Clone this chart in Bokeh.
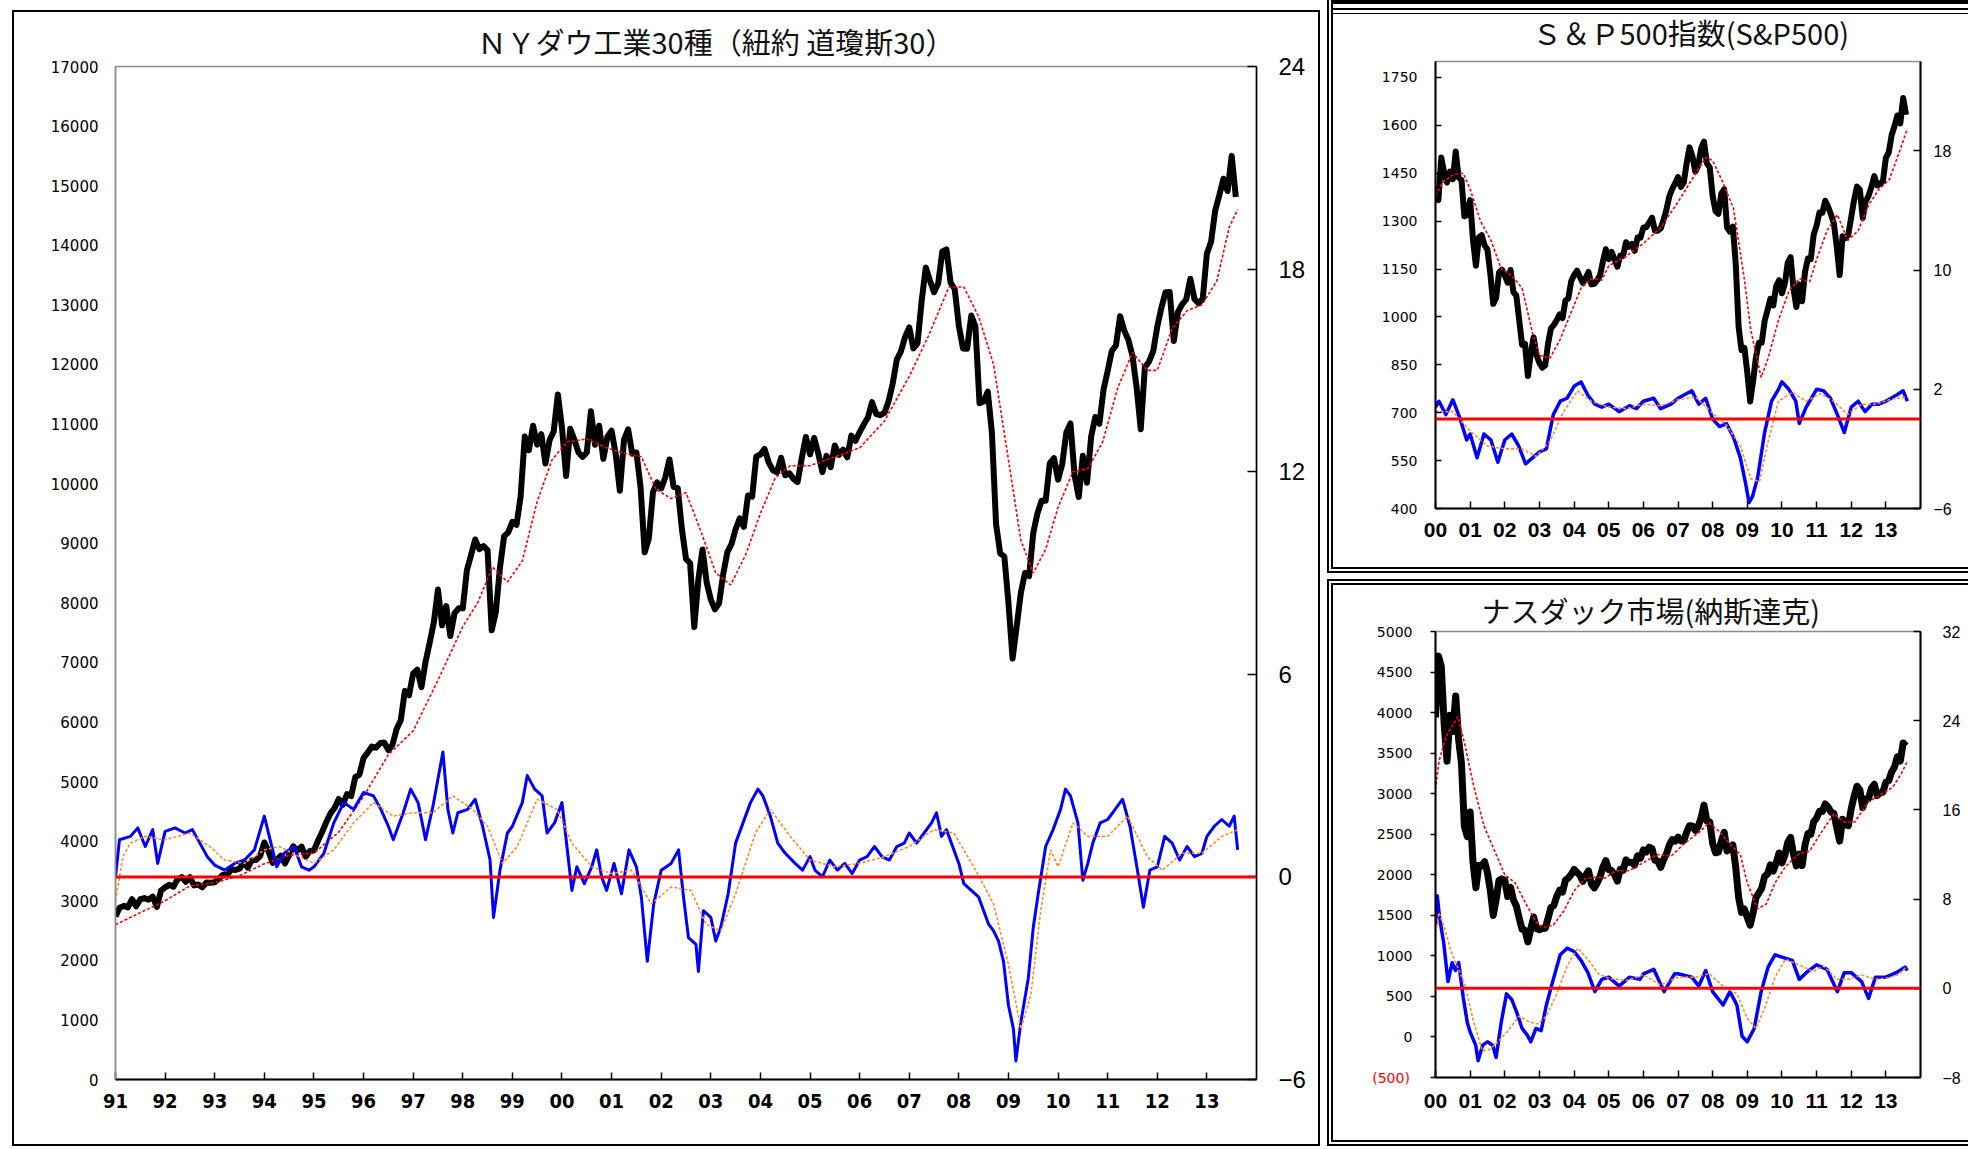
from bokeh.plotting import figure
from bokeh.models import Range1d, LinearAxis, FixedTicker, Span
from bokeh.layouts import row, column
from bokeh.embed import file_html
from bokeh.resources import INLINE

# ---------------- data ----------------
# NY Dow monthly close, 1991-01 .. 2013-08
dow_close = [
    2736, 2882, 2914, 2888, 3028, 2907, 3025, 3044, 3017, 3069, 2895, 3169,
    3224, 3267, 3236, 3359, 3397, 3319, 3394, 3257, 3272, 3226, 3305, 3301,
    3310, 3371, 3435, 3428, 3527, 3516, 3540, 3651, 3555, 3681, 3684, 3754,
    3978, 3832, 3636, 3682, 3758, 3625, 3765, 3913, 3843, 3908, 3739, 3834,
    3844, 4011, 4158, 4321, 4465, 4556, 4709, 4611, 4789, 4756, 5075, 5117,
    5395, 5486, 5588, 5569, 5643, 5655, 5529, 5616, 5882, 6029, 6522, 6448,
    6813, 6878, 6584, 7009, 7331, 7673, 8223, 7622, 7945, 7442, 7823, 7908,
    7907, 8546, 8800, 9063, 8900, 8952, 8883, 7539, 7843, 8592, 9117, 9181,
    9359, 9307, 9786, 10789, 10560, 10971, 10655, 10829, 10337, 10729, 10878, 11497,
    10941, 10128, 10922, 10734, 10522, 10448, 10522, 11215, 10651, 10971, 10415, 10788,
    10887, 10495, 9879, 10735, 10912, 10502, 10523, 9950, 8848, 9075, 9852, 10022,
    9920, 10106, 10404, 9946, 9925, 9243, 8737, 8664, 7592, 8397, 8896, 8342,
    8054, 7891, 7992, 8480, 8850, 8985, 9234, 9416, 9275, 9801, 9782, 10454,
    10488, 10584, 10358, 10226, 10188, 10435, 10140, 10174, 10080, 10027, 10428, 10783,
    10490, 10766, 10504, 10193, 10467, 10275, 10641, 10482, 10569, 10440, 10806, 10718,
    10865, 10993, 11109, 11367, 11168, 11150, 11186, 11381, 11679, 12081, 12222, 12463,
    12622, 12269, 12354, 13063, 13628, 13409, 13212, 13358, 13896, 13930, 13372, 13265,
    12650, 12266, 12263, 12820, 12638, 11350, 11378, 11544, 10851, 9325, 8829, 8776,
    8001, 7063, 7609, 8168, 8500, 8447, 9172, 9496, 9712, 9713, 10345, 10428,
    10067, 10325, 10857, 11009, 10137, 9774, 10466, 10015, 10788, 11118, 11006, 11578,
    11892, 12226, 12320, 12811, 12570, 12414, 12143, 11614, 10913, 11955, 12046, 12218,
    12633, 12952, 13212, 13214, 12393, 12880, 13009, 13091, 13437, 13096, 13026, 13104,
    13861, 14054, 14579, 14840, 15116, 14910, 15500, 14810,
]
dow_ma_t = [1991.0, 1991.5, 1992.0, 1992.5, 1993.0, 1993.5, 1994.0, 1994.5, 1995.0, 1995.5,
            1996.0, 1996.5, 1997.0, 1997.5, 1998.0, 1998.3, 1998.6, 1998.9, 1999.2, 1999.5,
            1999.8, 2000.1, 2000.5, 2000.9, 2001.3, 2001.6, 2001.9, 2002.2, 2002.5, 2002.8,
            2003.1, 2003.4, 2003.7, 2004.0, 2004.3, 2004.6, 2005.0, 2005.5, 2006.0, 2006.5,
            2007.0, 2007.4, 2007.8, 2008.1, 2008.4, 2008.7, 2009.0, 2009.25, 2009.5, 2009.75,
            2010.0, 2010.3, 2010.6, 2010.9, 2011.2, 2011.5, 2011.8, 2012.0, 2012.3, 2012.6,
            2012.9, 2013.2, 2013.45, 2013.62]
dow_ma = [2600, 2800, 3000, 3250, 3300, 3420, 3620, 3760, 3800, 4150,
          4750, 5450, 5850, 6700, 7600, 8000, 8600, 8350, 8700, 9700,
          10400, 10700, 10750, 10600, 10500, 10450, 9900, 9750, 9850, 9200,
          8500, 8300, 8800, 9500, 10100, 10300, 10300, 10450, 10600, 11050,
          11800, 12500, 13300, 13300, 12800, 12000, 10400, 9050, 8500, 8900,
          9600, 10200, 10250, 10700, 11600, 12200, 11900, 11900, 12600, 12900,
          13000, 13400, 14300, 14600]
dow_osc_t = [1991.00, 1991.08, 1991.3, 1991.45, 1991.6, 1991.75, 1991.85, 1992.0, 1992.2, 1992.4,
             1992.55, 1992.7, 1992.85, 1993.0, 1993.2, 1993.4, 1993.6, 1993.8, 1994.0, 1994.1,
             1994.25, 1994.4, 1994.6, 1994.75, 1994.9, 1995.0, 1995.2, 1995.4, 1995.6, 1995.8,
             1996.0, 1996.2, 1996.35, 1996.5, 1996.6, 1996.8, 1996.95, 1997.1, 1997.25, 1997.4,
             1997.6, 1997.7, 1997.8, 1997.9, 1998.1, 1998.25, 1998.4, 1998.55, 1998.62, 1998.75,
             1998.9, 1999.0, 1999.2, 1999.3, 1999.45, 1999.6, 1999.7, 1999.85, 2000.0, 2000.1,
             2000.2, 2000.3, 2000.45, 2000.6, 2000.7, 2000.8, 2000.9, 2001.05, 2001.2, 2001.35,
             2001.5, 2001.6, 2001.72, 2001.85, 2002.0, 2002.2, 2002.35, 2002.45, 2002.55, 2002.7,
             2002.75, 2002.85, 2003.0, 2003.1, 2003.2, 2003.35, 2003.5, 2003.65, 2003.8, 2003.95,
             2004.05, 2004.2, 2004.35, 2004.5, 2004.7, 2004.85, 2005.0, 2005.1, 2005.25, 2005.4,
             2005.55, 2005.7, 2005.85, 2006.0, 2006.15, 2006.3, 2006.45, 2006.6, 2006.75, 2006.9,
             2007.0, 2007.15, 2007.3, 2007.45, 2007.55, 2007.65, 2007.75, 2007.85, 2008.0, 2008.1,
             2008.25, 2008.4, 2008.5, 2008.6, 2008.7, 2008.8, 2008.9, 2009.0, 2009.1, 2009.15,
             2009.25, 2009.4, 2009.5, 2009.6, 2009.75, 2009.9, 2010.05, 2010.15, 2010.25, 2010.4,
             2010.5, 2010.6, 2010.7, 2010.85, 2011.0, 2011.15, 2011.3, 2011.45, 2011.6, 2011.72,
             2011.85, 2012.0, 2012.15, 2012.3, 2012.45, 2012.6, 2012.75, 2012.9, 2013.0, 2013.15,
             2013.3, 2013.45, 2013.55, 2013.62]
dow_osc = [0.0, 1.1, 1.2, 1.45, 0.9, 1.4, 0.4, 1.35, 1.45, 1.3,
           1.4, 1.0, 0.6, 0.35, 0.2, 0.4, 0.5, 0.8, 1.8, 1.2,
           0.3, 0.7, 0.9, 0.3, 0.2, 0.3, 0.7, 1.6, 2.2, 2.0,
           2.5, 2.4, 2.0, 1.5, 1.1, 1.9, 2.6, 2.2, 1.1, 2.1,
           3.7, 2.0, 1.3, 1.9, 2.0, 2.3, 1.5, 0.5, -1.2, 0.2,
           1.3, 1.5, 2.2, 3.0, 2.6, 2.4, 1.3, 1.6, 2.2, 0.9,
           -0.4, 0.3, -0.2, 0.3, 0.8, 0.0, -0.4, 0.4, -0.5, 0.8,
           0.3, -0.6, -2.5, -0.8, 0.2, 0.4, 0.8, -0.6, -1.8, -2.0,
           -2.8, -1.0, -1.2, -1.9, -1.5, -0.5, 1.0, 1.6, 2.2, 2.6,
           2.4, 1.8, 1.0, 0.7, 0.4, 0.2, 0.6, 0.2, 0.0, 0.5,
           0.2, 0.4, 0.1, 0.5, 0.6, 0.9, 0.6, 0.5, 0.9, 1.0,
           1.3, 1.0, 1.3, 1.6, 1.9, 1.2, 1.4, 1.0, 0.4, -0.2,
           -0.4, -0.6, -1.0, -1.4, -1.6, -1.9, -2.5, -3.8, -4.5, -5.45,
           -4.3, -3.0, -1.5, -0.5, 0.9, 1.4, 2.0, 2.6, 2.4, 1.6,
           -0.1, 0.4, 1.0, 1.6, 1.7, 2.0, 2.3, 1.5, 0.2, -0.9,
           0.2, 0.3, 1.2, 1.0, 0.5, 0.9, 0.6, 0.7, 1.2, 1.5,
           1.7, 1.5, 1.8, 0.8]
dow_osc_ma_t = [1991.0, 1991.15, 1991.3, 1991.6, 1992.0, 1992.5, 1992.9, 1993.2, 1993.6, 1994.0,
                1994.3, 1994.7, 1995.0, 1995.4, 1995.8, 1996.2, 1996.6, 1997.0, 1997.4, 1997.8,
                1998.2, 1998.5, 1998.8, 1999.1, 1999.5, 1999.9, 2000.2, 2000.6, 2001.0, 2001.4,
                2001.8, 2002.2, 2002.6, 2002.9, 2003.2, 2003.5, 2003.9, 2004.2, 2004.6, 2005.0,
                2005.5, 2006.0, 2006.5, 2007.0, 2007.5, 2007.9, 2008.3, 2008.7, 2009.0, 2009.25,
                2009.45, 2009.65, 2009.85, 2010.0, 2010.3, 2010.6, 2011.0, 2011.4, 2011.8, 2012.1,
                2012.5, 2012.9, 2013.3, 2013.62]
dow_osc_ma = [-0.7, 0.6, 1.0, 1.2, 1.1, 1.3, 0.9, 0.5, 0.4, 0.8,
              0.9, 0.6, 0.4, 0.8, 1.6, 2.2, 1.8, 1.9, 1.9, 2.4,
              2.0, 1.5, 0.4, 0.9, 2.3, 2.0, 1.0, 0.3, 0.1, 0.2,
              -0.8, -0.3, -0.4, -1.4, -1.6, -0.5, 1.3, 2.0, 1.2, 0.5,
              0.3, 0.4, 0.6, 0.9, 1.4, 1.3, 0.3, -0.8, -2.6, -4.5,
              -3.5, -1.0, 0.8, 0.3, 1.6, 1.2, 1.2, 1.8, 0.6, 0.2,
              0.7, 0.7, 1.2, 1.4]

# S&P 500 monthly close, 2000-01 .. 2013-08
sp_close = [
    1394, 1366, 1499, 1452, 1421, 1455, 1431, 1518, 1437, 1429, 1315, 1320,
    1366, 1240, 1160, 1249, 1256, 1224, 1211, 1134, 1041, 1060, 1139, 1148,
    1130, 1107, 1147, 1077, 1067, 990, 912, 916, 815, 886, 936, 880,
    856, 841, 848, 917, 964, 975, 990, 1008, 996, 1051, 1058, 1112,
    1131, 1145, 1126, 1107, 1121, 1141, 1102, 1104, 1115, 1130, 1174, 1212,
    1181, 1204, 1181, 1157, 1192, 1191, 1234, 1220, 1229, 1207, 1249, 1248,
    1280, 1281, 1295, 1311, 1270, 1270, 1277, 1304, 1336, 1378, 1401, 1418,
    1438, 1407, 1421, 1482, 1531, 1503, 1455, 1474, 1527, 1549, 1481, 1468,
    1379, 1331, 1323, 1386, 1400, 1280, 1267, 1283, 1166, 969, 896, 903,
    826, 735, 798, 873, 919, 919, 987, 1021, 1057, 1036, 1096, 1115,
    1074, 1104, 1169, 1187, 1089, 1031, 1102, 1049, 1141, 1183, 1181, 1258,
    1286, 1327, 1326, 1364, 1345, 1321, 1292, 1219, 1131, 1253, 1247, 1258,
    1312, 1366, 1408, 1398, 1310, 1362, 1379, 1407, 1441, 1412, 1416, 1426,
    1498, 1515, 1569, 1598, 1631, 1606, 1686, 1633,
]
sp_ma_t = [2000.0, 2000.2, 2000.5, 2000.8, 2001.0, 2001.3, 2001.6, 2001.9, 2002.2, 2002.5,
           2002.8, 2003.0, 2003.3, 2003.6, 2003.9, 2004.2, 2004.5, 2004.8, 2005.0, 2005.5,
           2006.0, 2006.5, 2007.0, 2007.4, 2007.8, 2008.0, 2008.3, 2008.6, 2008.9, 2009.1,
           2009.4, 2009.6, 2009.9, 2010.2, 2010.5, 2010.8, 2011.0, 2011.3, 2011.6, 2011.9,
           2012.2, 2012.5, 2012.8, 2013.1, 2013.4, 2013.62]
sp_ma = [1380, 1420, 1445, 1450, 1400, 1300, 1240, 1150, 1130, 1090,
         950, 880, 870, 930, 1010, 1090, 1120, 1115, 1160, 1190,
         1230, 1280, 1360, 1430, 1500, 1490, 1420, 1340, 1130, 960,
         810, 870, 990, 1080, 1120, 1110, 1180, 1270, 1320, 1240,
         1270, 1350, 1400, 1430, 1520, 1590]
sp_osc_t = [2000.0, 2000.1, 2000.3, 2000.5, 2000.7, 2000.9, 2001.0, 2001.2, 2001.4, 2001.6,
            2001.8, 2002.0, 2002.2, 2002.4, 2002.6, 2002.8, 2003.0, 2003.2, 2003.4, 2003.6,
            2003.8, 2004.0, 2004.2, 2004.4, 2004.6, 2004.8, 2005.0, 2005.3, 2005.6, 2005.8,
            2006.0, 2006.3, 2006.5, 2006.8, 2007.0, 2007.4, 2007.6, 2007.8, 2008.0, 2008.2,
            2008.4, 2008.6, 2008.8, 2008.95, 2009.05, 2009.15, 2009.3, 2009.5, 2009.7, 2009.9,
            2010.0, 2010.2, 2010.4, 2010.5, 2010.7, 2011.0, 2011.2, 2011.4, 2011.6, 2011.8,
            2012.0, 2012.2, 2012.4, 2012.6, 2012.8, 2013.0, 2013.3, 2013.5, 2013.62]
sp_osc = [0.8, 1.2, 0.3, 1.3, 0.1, -1.4, -1.0, -2.6, -1.0, -1.4,
          -2.9, -1.4, -1.0, -1.8, -3.0, -2.6, -2.2, -2.0, 0.3, 1.2,
          1.4, 2.2, 2.5, 1.6, 1.0, 0.8, 1.0, 0.5, 0.9, 0.7,
          1.2, 1.4, 0.7, 1.0, 1.4, 1.9, 1.0, 1.4, 0.0, -0.5,
          -0.3, -1.2, -2.6, -4.3, -5.6, -5.2, -3.9, -0.9, 1.2, 2.0,
          2.5, 2.0, 1.2, -0.3, 0.8, 2.0, 1.9, 1.4, 0.3, -0.9,
          0.8, 1.2, 0.5, 1.0, 1.0, 1.2, 1.6, 1.9, 1.2]
sp_osc_ma_t = [2000.0, 2000.5, 2001.0, 2001.5, 2002.0, 2002.5, 2002.9, 2003.3, 2003.7, 2004.1,
               2004.5, 2005.0, 2005.5, 2006.0, 2006.5, 2007.0, 2007.5, 2008.0, 2008.4, 2008.8,
               2009.1, 2009.35, 2009.6, 2009.9, 2010.3, 2010.7, 2011.1, 2011.5, 2011.9, 2012.3,
               2012.7, 2013.1, 2013.62]
sp_osc_ma = [0.5, 0.5, -0.8, -1.8, -2.0, -2.0, -2.5, -1.5, 0.5, 1.9,
             1.2, 0.8, 0.7, 1.0, 0.9, 1.3, 1.5, 0.4, -0.4, -1.8,
             -4.0, -4.2, -1.5, 1.2, 1.8, 1.2, 1.7, 1.2, 0.3, 1.0,
             1.0, 1.3, 1.5]

# NASDAQ composite monthly close, 2000-01 .. 2013-08
nq_close = [
    3940, 4697, 4573, 3861, 3401, 3966, 3767, 4206, 3673, 3370, 2598, 2471,
    2773, 2152, 1840, 2116, 2110, 2161, 2027, 1805, 1499, 1690, 1931, 1950,
    1934, 1731, 1845, 1688, 1616, 1463, 1328, 1315, 1172, 1330, 1479, 1336,
    1321, 1338, 1341, 1464, 1596, 1623, 1735, 1810, 1787, 1932, 1960, 2003,
    2066, 2030, 1994, 1920, 1987, 2048, 1887, 1838, 1897, 1975, 2097, 2175,
    2062, 2052, 1999, 1922, 2068, 2057, 2185, 2152, 2152, 2120, 2233, 2205,
    2306, 2281, 2340, 2323, 2179, 2172, 2091, 2184, 2258, 2367, 2432, 2415,
    2464, 2416, 2422, 2525, 2605, 2603, 2546, 2596, 2701, 2859, 2661, 2652,
    2390, 2271, 2279, 2413, 2523, 2293, 2326, 2368, 2092, 1721, 1536, 1577,
    1476, 1378, 1529, 1717, 1774, 1835, 1979, 2009, 2122, 2045, 2145, 2269,
    2147, 2238, 2398, 2461, 2257, 2109, 2255, 2114, 2369, 2507, 2498, 2653,
    2700, 2782, 2781, 2874, 2835, 2774, 2756, 2580, 2415, 2684, 2620, 2605,
    2814, 2967, 3092, 3046, 2827, 2935, 2940, 3067, 3116, 2977, 3010, 3020,
    3142, 3160, 3268, 3329, 3456, 3403, 3626, 3590,
]
nq_ma_t = [2000.0, 2000.1, 2000.3, 2000.5, 2000.65, 2000.85, 2001.1, 2001.4, 2001.7, 2002.0,
           2002.3, 2002.6, 2002.9, 2003.1, 2003.4, 2003.7, 2004.0, 2004.3, 2004.6, 2004.9,
           2005.2, 2005.6, 2006.0, 2006.4, 2006.8, 2007.2, 2007.6, 2007.9, 2008.2, 2008.5,
           2008.8, 2009.0, 2009.3, 2009.55, 2009.8, 2010.1, 2010.5, 2010.8, 2011.1, 2011.5,
           2011.8, 2012.1, 2012.5, 2012.9, 2013.2, 2013.45, 2013.62]
nq_ma = [3050, 3400, 3700, 3850, 3950, 3600, 3100, 2600, 2300, 2000,
         1900, 1650, 1420, 1350, 1380, 1550, 1800, 1950, 1970, 1960,
         2050, 2050, 2150, 2250, 2230, 2390, 2520, 2640, 2530, 2380,
         2250, 1900, 1580, 1640, 1900, 2100, 2260, 2290, 2500, 2750,
         2650, 2650, 2900, 3000, 3080, 3250, 3400]
nq_osc_t = [2000.0, 2000.05, 2000.12, 2000.24, 2000.36, 2000.48, 2000.58, 2000.67, 2000.8, 2000.92,
            2001.01, 2001.16, 2001.23, 2001.36, 2001.5, 2001.65, 2001.75, 2001.9, 2002.05, 2002.2,
            2002.35, 2002.5, 2002.65, 2002.75, 2002.9, 2003.05, 2003.2, 2003.4, 2003.6, 2003.8,
            2004.0, 2004.2, 2004.4, 2004.6, 2004.8, 2005.0, 2005.3, 2005.6, 2005.9, 2006.0,
            2006.3, 2006.6, 2006.9, 2007.0, 2007.4, 2007.6, 2007.8, 2008.0, 2008.3, 2008.5,
            2008.7, 2008.85, 2009.0, 2009.2, 2009.4, 2009.6, 2009.8, 2010.0, 2010.3, 2010.5,
            2010.7, 2011.0, 2011.3, 2011.6, 2011.8, 2012.0, 2012.3, 2012.5, 2012.7, 2013.0,
            2013.3, 2013.55, 2013.62]
nq_osc = [5.6, 8.3, 6.3, 4.0, 0.6, 2.3, 1.6, 2.3, -0.8, -3.1,
          -4.0, -5.1, -6.5, -5.1, -4.8, -5.1, -6.2, -3.0, -0.5, -1.0,
          -2.2, -3.6, -4.2, -4.8, -3.6, -3.8, -1.5, 0.8, 3.0, 3.6,
          3.3, 2.5, 1.4, -0.3, 0.8, 1.0, 0.2, 1.0, 0.8, 1.3,
          1.7, -0.3, 1.3, 1.3, 1.0, 0.2, 1.6, -0.3, -1.5, -0.3,
          -1.5, -4.3, -4.8, -3.6, -0.3, 1.9, 3.0, 2.8, 2.5, 0.8,
          1.4, 2.1, 1.7, -0.3, 1.4, 1.4, 0.6, -0.9, 1.0, 1.0,
          1.4, 1.9, 1.6]
nq_osc_ma_t = [2000.0, 2000.1, 2000.25, 2000.45, 2000.65, 2000.85, 2001.1, 2001.35, 2001.55, 2001.8,
               2002.1, 2002.4, 2002.7, 2002.95, 2003.2, 2003.5, 2003.8, 2004.1, 2004.4, 2004.7,
               2005.0, 2005.5, 2006.0, 2006.5, 2007.0, 2007.5, 2007.9, 2008.3, 2008.7, 2009.0,
               2009.25, 2009.5, 2009.8, 2010.1, 2010.5, 2010.9, 2011.2, 2011.6, 2011.9, 2012.3,
               2012.7, 2013.0, 2013.35, 2013.62]
nq_osc_ma = [5.1, 6.8, 5.5, 3.3, 1.8, 0.3, -3.0, -5.6, -5.5, -4.8,
             -3.8, -2.5, -3.0, -3.2, -2.5, -0.5, 2.0, 3.6, 2.6, 1.3,
             0.9, 0.7, 1.2, 0.3, 1.0, 1.0, 1.3, 0.2, -0.5, -2.7,
             -3.6, -1.8, 1.0, 2.6, 2.1, 1.5, 2.0, 0.8, 0.8, 1.2,
             0.8, 0.9, 1.2, 2.0]

dow_years = list(range(1991, 2014))
dow_year_labels = ["%02d" % (y % 100) for y in dow_years]
sub_years = list(range(2000, 2014))
sub_year_labels = ["%02d" % (y % 100) for y in sub_years]
nq_left_ticks = list(range(-500, 5001, 500))
nq_neg_label = "(500)"

TITLE_MAIN = "ＮＹダウ工業30種（紐約 道瓊斯30）"
TITLE_SP = "Ｓ＆Ｐ500指数(S&P500)"
TITLE_NQ = "ナスダック市場(納斯達克)"

# ---------------- styling helpers ----------------
JP = "Noto Sans CJK JP"
NARROW = "'Liberation Sans Narrow', 'DejaVu Sans Condensed', sans-serif"
BLACK = "#000000"
RED = "#FF0000"
BLUE = "#0000FF"
ORANGE = "#FF8A2A"


def months(start, n):
    return [start + i / 12.0 for i in range(n)]


def make_panel(width, height, margin, xr, yr, rr, borders, title, title_size, title_offset,
               title_standoff, styles):
    p = figure(width=width, height=height, x_range=Range1d(*xr), y_range=Range1d(*yr),
               output_backend="svg", toolbar_location=None,
               min_border_left=borders[0], min_border_right=borders[1],
               min_border_top=borders[2], min_border_bottom=borders[3])
    p.margin = margin
    p.extra_y_ranges = {"r": Range1d(*rr)}
    p.xgrid.visible = False
    p.ygrid.visible = False
    p.outline_line_color = "#8c8c8c"
    p.outline_line_width = 1.5
    p.background_fill_color = "white"
    p.border_fill_color = None
    p.title.text = title
    p.title.align = "left"
    p.title.text_font = JP
    p.title.text_font_style = "normal"
    p.title.text_font_size = title_size
    p.title.text_color = "#111111"
    p.title.offset = title_offset
    p.title.standoff = title_standoff
    p.styles = styles
    return p


def style_axis(ax, font, size, style, standoff, tin, tout, line_color, line_width, color=BLACK):
    ax.major_label_text_font = font
    ax.major_label_text_font_size = size
    ax.major_label_text_font_style = style
    ax.major_label_text_color = color
    ax.major_label_standoff = standoff
    ax.major_tick_in = tin
    ax.major_tick_out = tout
    ax.minor_tick_line_color = None
    ax.major_tick_line_color = BLACK
    ax.major_tick_line_width = 1.5
    ax.axis_line_color = line_color
    ax.axis_line_width = line_width


def draw_series(p, t_close, close, ma_t, ma, osc_t, osc, oma_t, oma, black_w, blue_w):
    p.add_layout(Span(location=0, dimension="width", y_range_name="r",
                      line_color=RED, line_width=3))
    p.line(t_close, close, line_color=BLACK, line_width=black_w, line_join="round")
    p.line(ma_t, ma, line_color=RED, line_width=1.6, line_dash="3 2")
    p.line(osc_t, osc, y_range_name="r", line_color=BLUE, line_width=blue_w, line_join="round")
    p.line(oma_t, oma, y_range_name="r", line_color=ORANGE, line_width=1.6, line_dash="3 2")


# ---------------- main panel: NY Dow ----------------
# element box: x 14..1318, y 12..1144 ; frame x 115..1256, y 66..1079
pm = make_panel(1304, 1132, (12, 6, 5, 14), (1991, 2014), (0, 17000), (-6, 24),
                (101, 62, 54, 65), TITLE_MAIN, "29px", 362, 10,
                {"outline": "2px solid #000000", "outline-offset": "0px"})
draw_series(pm, months(1991, len(dow_close)), dow_close, dow_ma_t, dow_ma,
            dow_osc_t, dow_osc, dow_osc_ma_t, dow_osc_ma, 6, 3)
pm.xaxis.ticker = FixedTicker(ticks=dow_years)
pm.xaxis.major_label_overrides = {y: l for y, l in zip(dow_years, dow_year_labels)}
style_axis(pm.xaxis[0], NARROW, "20px", "bold", 14, 7, 0, BLACK, 2)
pm.yaxis.ticker = FixedTicker(ticks=list(range(0, 17001, 1000)))
style_axis(pm.yaxis[0], "DejaVu Sans", "15px", "normal", 17, 0, 0, "#8c8c8c", 1.5)
rax = LinearAxis(y_range_name="r", ticker=FixedTicker(ticks=[-6, 0, 6, 12, 18, 24]))
style_axis(rax, "Liberation Sans", "24px", "normal", 22, 9, 0, BLACK, 1.5)
pm.add_layout(rax, "right")

# ---------------- S&P 500 ----------------
# element box: x 1333..1968, y 0..567 ; frame x 1428..1929, y 61..508
sp_styles = {
    "outline": "6px double #000000", "outline-offset": "0px",
    "background": ("linear-gradient(#000, #000) 0px 0px / 100% 4px no-repeat, "
                   "linear-gradient(#000, #000) 0px 8px / 100% 2px no-repeat, "
                   "linear-gradient(#000, #000) 0px 13px / 100% 1px no-repeat"),
}
ps = make_panel(635, 567, (0, 0, 8, 9), (2000, 2014), (400, 1800), (-6, 24),
                (95, 39, 61, 59), TITLE_SP, "29px", 97, 17, sp_styles)
draw_series(ps, months(2000, len(sp_close)), sp_close, sp_ma_t, sp_ma,
            sp_osc_t, sp_osc, sp_osc_ma_t, sp_osc_ma, 6, 3.5)
ps.xaxis.ticker = FixedTicker(ticks=sub_years)
ps.xaxis.major_label_overrides = {y: l for y, l in zip(sub_years, sub_year_labels)}
style_axis(ps.xaxis[0], "Liberation Sans", "21px", "bold", 14, 7, 0, BLACK, 2)
ps.yaxis.ticker = FixedTicker(ticks=list(range(400, 1751, 150)))
style_axis(ps.yaxis[0], "DejaVu Sans", "14px", "normal", 18, 6, 0, BLACK, 2)
rax = LinearAxis(y_range_name="r", ticker=FixedTicker(ticks=[-6, 2, 10, 18]))
style_axis(rax, "Liberation Sans", "16px", "normal", 13, 7, 0, BLACK, 2)
ps.add_layout(rax, "right")

# ---------------- NASDAQ ----------------
# element box: x 1333..1968, y 585..1140 ; frame x 1435..1920, y 631..1077
pn = make_panel(635, 555, (10, 0, 9, 9), (2000, 2014), (-500, 5000), (-8, 32),
                (102, 48, 46, 63), TITLE_NQ, "29px", 46, 2,
                {"outline": "6px double #000000", "outline-offset": "0px"})
draw_series(pn, months(2000, len(nq_close)), nq_close, nq_ma_t, nq_ma,
            nq_osc_t, nq_osc, nq_osc_ma_t, nq_osc_ma, 7, 3.5)
pn.xaxis.ticker = FixedTicker(ticks=sub_years)
pn.xaxis.major_label_overrides = {y: l for y, l in zip(sub_years, sub_year_labels)}
style_axis(pn.xaxis[0], "Liberation Sans", "21px", "bold", 16, 7, 0, BLACK, 2)
pn.yaxis.ticker = FixedTicker(ticks=nq_left_ticks)
pn.yaxis.major_label_overrides = {nq_left_ticks[0]: " "}
style_axis(pn.yaxis[0], "DejaVu Sans", "14px", "normal", 18, 0, 5, BLACK, 2)
# the negative tick label is shown in red, drawn as the axis' own label at its start
yax = pn.yaxis[0]
yax.axis_label = nq_neg_label
yax.axis_label_orientation = "horizontal"
yax.axis_label_align = "start"
yax.axis_label_standoff = -36
yax.axis_label_text_color = RED
yax.axis_label_text_font = "DejaVu Sans"
yax.axis_label_text_font_size = "14px"
yax.axis_label_text_font_style = "normal"
rax = LinearAxis(y_range_name="r", ticker=FixedTicker(ticks=[-8, 0, 8, 16, 24, 32]))
style_axis(rax, "Liberation Sans", "16px", "normal", 22, 7, 0, BLACK, 2)
pn.add_layout(rax, "right")

layout = row(pm, column(ps, pn, spacing=0), spacing=0)
open("out.html", "w").write(file_html(layout, INLINE))
